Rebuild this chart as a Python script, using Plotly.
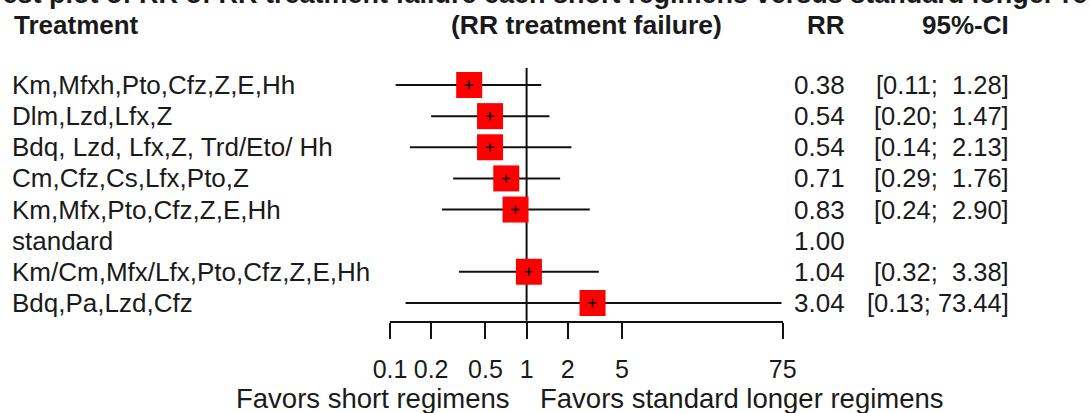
import plotly.graph_objects as go

# ---- data ----
treatments = ["Km,Mfxh,Pto,Cfz,Z,E,Hh", "Dlm,Lzd,Lfx,Z", "Bdq, Lzd, Lfx,Z, Trd/Eto/ Hh",
              "Cm,Cfz,Cs,Lfx,Pto,Z", "Km,Mfx,Pto,Cfz,Z,E,Hh", "standard",
              "Km/Cm,Mfx/Lfx,Pto,Cfz,Z,E,Hh", "Bdq,Pa,Lzd,Cfz"]
rr = [0.38, 0.54, 0.54, 0.71, 0.83, 1.00, 1.04, 3.04]
lower = [0.11, 0.20, 0.14, 0.29, 0.24, None, 0.32, 0.13]
upper = [1.28, 1.47, 2.13, 1.76, 2.90, None, 3.38, 73.44]
rr_labels = ["0.38", "0.54", "0.54", "0.71", "0.83", "1.00", "1.04", "3.04"]
ci_labels = ["[0.11;  1.28]", "[0.20;  1.47]", "[0.14;  2.13]", "[0.29;  1.76]",
             "[0.24;  2.90]", "", "[0.32;  3.38]", "[0.13; 73.44]"]
tick_vals = [0.1, 0.2, 0.5, 1, 2, 5, 75]
tick_text = ["0.1", "0.2", "0.5", "1", "2", "5", "75"]
title_text = "Forest plot of RR of RR treatment failure each short regimens versus standard longer regimens"
header_cols = ["Treatment", "(RR treatment failure)", "RR", "95%-CI"]
favors = ["Favors short regimens", "Favors standard longer regimens"]

W, H = 1089, 413
FONT = "Liberation Sans, Arial, sans-serif"
TXT = "#1a1a1a"

rows = list(range(1, len(treatments) + 1))

fig = go.Figure()

# CI lines
xs, ys = [], []
for r, lo, hi in zip(rows, lower, upper):
    if lo is None:
        continue
    xs += [lo, hi, None]
    ys += [r, r, None]
fig.add_trace(go.Scatter(x=xs, y=ys, mode="lines", line=dict(color="#111111", width=2),
                         hoverinfo="skip", showlegend=False))

# reference line at RR = 1
fig.add_trace(go.Scatter(x=[1, 1], y=[0.45, 8.6], mode="lines",
                         line=dict(color="#111111", width=2), hoverinfo="skip", showlegend=False))

# squares
sq_x = [v for v, lo in zip(rr, lower) if lo is not None]
sq_y = [r for r, lo in zip(rows, lower) if lo is not None]
fig.add_trace(go.Scatter(x=sq_x, y=sq_y, mode="markers",
                         marker=dict(symbol="square", size=26, color="#ff0000", line=dict(width=0)),
                         showlegend=False))
fig.add_trace(go.Scatter(x=sq_x, y=sq_y, mode="markers",
                         marker=dict(symbol="cross-thin", size=6, color="#111111",
                                     line=dict(width=1.5, color="#111111")),
                         showlegend=False, hoverinfo="skip"))

ann = []
def px(x):
    return x / W

def add(x, y, text, anchor, size, yref="y", bold=False):
    ann.append(dict(x=px(x), y=y, xref="paper", yref=yref,
                    text=("<b>%s</b>" % text) if bold else text,
                    xanchor=anchor, yanchor="middle", showarrow=False,
                    font=dict(family=FONT, size=size, color=TXT)))

# header
hdr_y = -0.94
add(12, hdr_y, header_cols[0], "left", 26, bold=True)
add(586, hdr_y, header_cols[1], "center", 26.5, bold=True)
add(847, hdr_y, header_cols[2], "right", 26, bold=True)
add(1011, hdr_y, header_cols[3], "right", 26, bold=True)

# title (cut off at top edge, as in reference)
add(-43, 1 + 5.5 / H, title_text, "left", 27, yref="paper", bold=True)

for r, t, a, c in zip(rows, treatments, rr_labels, ci_labels):
    add(10, r, t, "left", 26)
    add(847, r, a, "right", 26)
    if c:
        add(1011, r, c.replace(" ", "&nbsp;"), "right", 25.5)

# favors labels
add(512, (H - 398) / H, favors[0], "right", 27.5, yref="paper")
add(538, (H - 398) / H, favors[1], "left", 27.5, yref="paper")

fig.update_layout(
    width=W, height=H,
    margin=dict(l=0, r=0, t=0, b=0),
    paper_bgcolor="white", plot_bgcolor="white",
    showlegend=False,
    annotations=ann,
    xaxis=dict(type="log", domain=[390 / W, 782.7 / W], range=[-1, 1.8751],
               tickvals=tick_vals, ticktext=tick_text, tickangle=0, automargin=False,
               showgrid=False, zeroline=False, showline=True, linewidth=2, linecolor="#111111",
               ticks="outside", ticklen=16, tickwidth=2, tickcolor="#111111",
               ticklabelstandoff=9,
               tickfont=dict(family=FONT, size=25, color=TXT), fixedrange=True),
    yaxis=dict(domain=[(H - 320.7) / H, 1], range=[8.57, -1.73], visible=False,
               automargin=False, fixedrange=True),
)

fig.write_html("out.html", config={"displayModeBar": False},
               post_script="document.body.style.margin='0';document.body.style.overflow='hidden';")
